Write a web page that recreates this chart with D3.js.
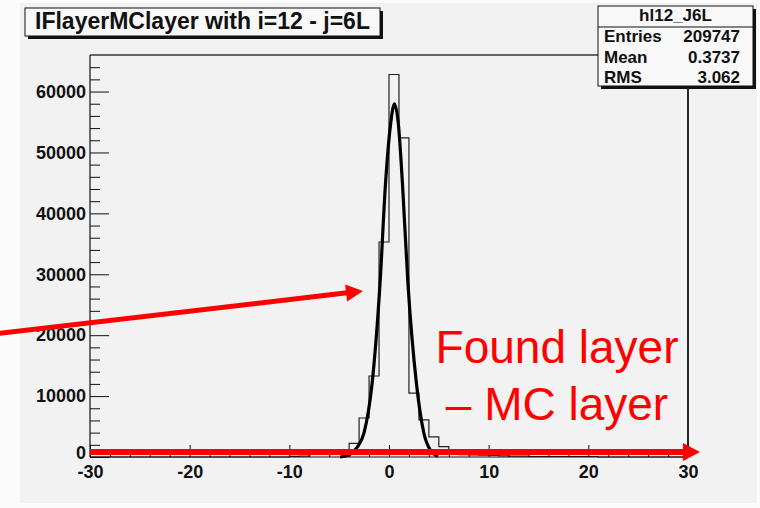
<!DOCTYPE html>
<html>
<head>
<meta charset="utf-8">
<script src="https://cdn.jsdelivr.net/npm/d3@7"></script>
<style>
  html, body { margin: 0; padding: 0; background: #ffffff; }
  svg text { font-family: "Liberation Sans", Arial, Helvetica, sans-serif; }
</style>
</head>
<body>
<svg id="chart" width="760" height="508"></svg>
<script>
// ---------------- data ----------------
const titleText = "IFlayerMClayer with i=12 - j=6L";
const statsName = "hl12_J6L";
const statsLabels = ["Entries", "Mean", "RMS"];
const statsValues = ["209747", "0.3737", "3.062"];

// histogram: 60 bins of width 1 from -30 to 30 (left edges)
const binStarts = d3.range(-30, 30, 1);
const binCounts = [
  0,0,0,0,0,0,0,0,0,0, 0,0,0,0,0,0,0,0,0,0,          // -30 .. -11
  100,150,450,450,650,870,2250,6400,13300,35300,      // -10 .. -1
  62800,52400,10500,6100,3300,1700,500,400,350,300,   // 0 .. 9
  250,200,150,150,80,80,80,80,80,80,                  // 10 .. 19
  80,0,0,0,0,0,0,0,0,0                                // 20 .. 29
];

// fitted curve
const fitX = [-4.9, -4.0, -3.2, -2.5, -1.7, -0.9, -0.35, 0.15, 0.55, 0.95, 1.35, 1.9, 2.75, 3.5, 4.2, 4.9];
const fitY = [0, 350, 1600, 4000, 12000, 28500, 44900, 54500, 58000, 54500, 44900, 28500, 12100, 3900, 1000, 100];

const xMajorTicks = [-30, -20, -10, 0, 10, 20, 30];
const xMinorTicks = d3.range(-30, 31, 2).filter(v => v % 10 !== 0);
const yMajorTicks = [0, 10000, 20000, 30000, 40000, 50000, 60000];
const yMinorTicks = d3.range(0, 66000, 2000).filter(v => v % 10000 !== 0);

const noteLines = ["Found layer", "\u2013 MC layer"];

// ---------------- layout ----------------
const svg = d3.select("#chart");
const W = 760, H = 508;
const frame = { left: 90, right: 688, top: 55, bottom: 457 };
const bg = "#f2f2f2";
const font = '"Liberation Sans", Arial, Helvetica, sans-serif';

const x = d3.scaleLinear().domain([-30, 30]).range([frame.left, frame.right]);
const y = d3.scaleLinear().domain([0, 66000]).range([frame.bottom, frame.top]);

// canvas background
svg.append("rect").attr("x", 0).attr("y", 0).attr("width", W).attr("height", H).attr("fill", "#fbfbfb");
svg.append("rect").attr("x", 20).attr("y", 3).attr("width", 737).attr("height", 500).attr("fill", bg);

// clip for plot area
svg.append("clipPath").attr("id", "plotclip")
  .append("rect").attr("x", frame.left).attr("y", frame.top)
  .attr("width", frame.right - frame.left).attr("height", frame.bottom - frame.top + 3);

// histogram outline
const histPts = [];
binStarts.forEach((b, i) => {
  histPts.push([b, binCounts[i]]);
  histPts.push([b + 1, binCounts[i]]);
});
svg.append("path")
  .attr("clip-path", "url(#plotclip)")
  .attr("d", d3.line().x(d => x(d[0])).y(d => y(d[1]))(histPts))
  .attr("fill", "none").attr("stroke", "#222").attr("stroke-width", 1.2);

// fit curve
svg.append("path")
  .attr("clip-path", "url(#plotclip)")
  .attr("d", d3.line().x((d, i) => x(fitX[i])).y(d => y(d)).curve(d3.curveMonotoneX)(fitY))
  .attr("fill", "none").attr("stroke", "#000").attr("stroke-width", 3.2)
  .attr("stroke-linejoin", "round");

const fmt = d => String(d);

// axes
const gy = svg.append("g").attr("transform", `translate(${frame.left},0)`);
gy.call(d3.axisLeft(y).tickValues(yMajorTicks).tickSizeInner(-19).tickSizeOuter(0).tickPadding(4).tickFormat(fmt));
gy.append("g").call(d3.axisLeft(y).tickValues(yMinorTicks).tickSizeInner(-10).tickSizeOuter(0).tickFormat(""));
gy.selectAll(".domain").remove();
gy.selectAll("line").attr("stroke", "#111").attr("stroke-width", 1);
gy.selectAll("text").attr("font-family", font).attr("font-size", 18).attr("font-weight", "bold").attr("fill", "#111");
gy.selectAll(".tick text").filter(d => d === 0).attr("dy", "0.1em");

const gx = svg.append("g").attr("transform", `translate(0,${frame.bottom})`);
gx.call(d3.axisBottom(x).tickValues(xMajorTicks).tickSizeInner(-12).tickSizeOuter(0).tickPadding(8).tickFormat(fmt));
gx.append("g").call(d3.axisBottom(x).tickValues(xMinorTicks).tickSizeInner(-6).tickSizeOuter(0).tickFormat(""));
gx.selectAll(".domain").remove();
gx.selectAll("line").attr("stroke", "#111").attr("stroke-width", 1);
gx.selectAll("text").attr("font-family", font).attr("font-size", 18).attr("font-weight", "bold").attr("fill", "#111");

// frame
svg.append("line").attr("x1", frame.left).attr("x2", frame.right).attr("y1", frame.top).attr("y2", frame.top)
  .attr("stroke", "#666").attr("stroke-width", 2);
svg.append("line").attr("x1", frame.right).attr("x2", frame.right).attr("y1", frame.top).attr("y2", frame.bottom)
  .attr("stroke", "#111").attr("stroke-width", 1.8);
svg.append("line").attr("x1", frame.left).attr("x2", frame.left).attr("y1", frame.top).attr("y2", frame.bottom)
  .attr("stroke", "#111").attr("stroke-width", 1.2);
svg.append("line").attr("x1", frame.left).attr("x2", frame.right).attr("y1", frame.bottom).attr("y2", frame.bottom)
  .attr("stroke", "#111").attr("stroke-width", 1.2);

// title box
const tb = { x: 25, y: 8, w: 355, h: 28 };
svg.append("rect").attr("x", tb.x + 3).attr("y", tb.y + 3).attr("width", tb.w).attr("height", tb.h).attr("fill", "#111");
svg.append("rect").attr("x", tb.x).attr("y", tb.y).attr("width", tb.w).attr("height", tb.h)
  .attr("fill", "#f8f8f8").attr("stroke", "#111").attr("stroke-width", 1);
svg.append("text").attr("x", tb.x + tb.w / 2).attr("y", 28.5).attr("text-anchor", "middle")
  .attr("font-family", font).attr("font-size", 23).attr("font-weight", "bold").attr("fill", "#111")
  .text(titleText);

// stats box
const sb = { x: 598, y: 6, w: 155, h: 80 };
svg.append("rect").attr("x", sb.x + 3).attr("y", sb.y + 3).attr("width", sb.w).attr("height", sb.h).attr("fill", "#111");
svg.append("rect").attr("x", sb.x).attr("y", sb.y).attr("width", sb.w).attr("height", sb.h)
  .attr("fill", "#f8f8f8").attr("stroke", "#111").attr("stroke-width", 1);
svg.append("line").attr("x1", sb.x).attr("x2", sb.x + sb.w).attr("y1", 27).attr("y2", 27)
  .attr("stroke", "#111").attr("stroke-width", 1);
svg.append("text").attr("x", sb.x + sb.w / 2).attr("y", 21).attr("text-anchor", "middle")
  .attr("font-family", font).attr("font-size", 17).attr("font-weight", "bold").attr("fill", "#111")
  .text(statsName);
const rowY = [42, 62.5, 83];
statsLabels.forEach((lab, i) => {
  svg.append("text").attr("x", sb.x + 6).attr("y", rowY[i])
    .attr("font-family", font).attr("font-size", 17).attr("font-weight", "bold").attr("fill", "#111").text(lab);
  svg.append("text").attr("x", 740).attr("y", rowY[i]).attr("text-anchor", "end")
    .attr("font-family", font).attr("font-size", 17).attr("font-weight", "bold").attr("fill", "#111").text(statsValues[i]);
});

// red annotations
const red = "#ff0000";
function arrow(x0, y0, x1, y1, width, headLen, headHalf) {
  const dx = x1 - x0, dy = y1 - y0, L = Math.hypot(dx, dy);
  const ux = dx / L, uy = dy / L, px = -uy, py = ux;
  const bx = x1 - ux * headLen, by = y1 - uy * headLen;
  svg.append("line").attr("x1", x0).attr("y1", y0).attr("x2", bx + ux).attr("y2", by + uy)
    .attr("stroke", red).attr("stroke-width", width);
  svg.append("path")
    .attr("d", `M${x1},${y1}L${bx + px * headHalf},${by + py * headHalf}L${bx - px * headHalf},${by - py * headHalf}Z`)
    .attr("fill", red);
}
arrow(-2, 333.5, 363, 291, 5, 17, 8.5);
arrow(x(-30), y(820), x(31.2), y(820), 6, 17, 9);

noteLines.forEach((t, i) => {
  svg.append("text").attr("x", 557).attr("y", [363, 420][i]).attr("text-anchor", "middle")
    .attr("font-family", font).attr("font-size", 46).attr("fill", red).text(t);
});
</script>
</body>
</html>
